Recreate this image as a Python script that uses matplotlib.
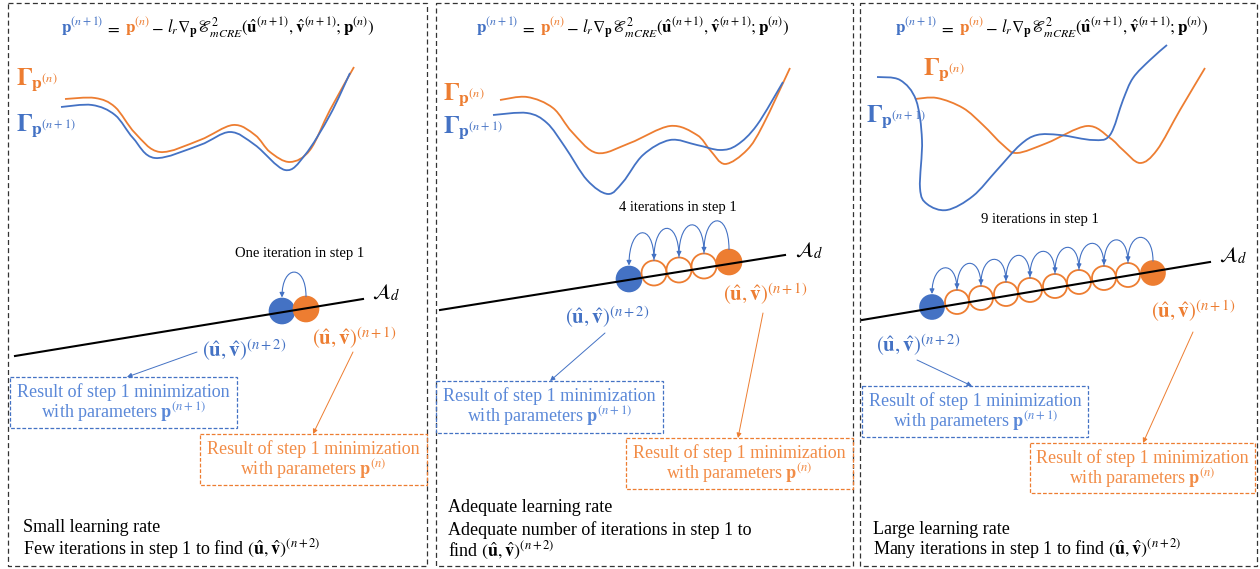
import numpy as np
import matplotlib
matplotlib.use("Agg")
import matplotlib.pyplot as plt
from matplotlib.path import Path
from matplotlib.patches import PathPatch, Circle, FancyArrowPatch, Rectangle

plt.rcParams["font.family"] = ["Liberation Serif", "DejaVu Serif"]
plt.rcParams["mathtext.fontset"] = "stix"

BLUE = "#4472C4"
ORANGE = "#ED7D31"
BLUE_TXT = "#5a88d8"
ORANGE_TXT = "#f28c46"

# ---- panels (left, right) in pixels ----
panel_x0 = [8, 436, 860]
panel_x1 = [427, 853, 1257]
panel_y0 = 3
panel_y1 = 566

# ---- loss landscape curves (pixel coords) ----
orange_x = [
    [65, 95, 115, 135, 160, 200, 233, 255, 270, 290, 310, 330, 354],
    [500, 527, 553, 572, 597, 630, 670, 697, 710, 725, 747, 763, 790],
    [915, 937, 963, 983, 1003, 1017, 1047, 1087, 1110, 1123, 1140, 1157, 1180, 1205],
]
orange_y = [
    [99, 98, 107, 133, 152, 140, 125, 135, 152, 162, 150, 110, 67],
    [100, 97, 108, 132, 153, 143, 126, 135, 150, 164, 150, 125, 68],
    [99, 98, 108, 125, 145, 153, 143, 126, 138, 150, 163, 150, 110, 68],
]
blue_x = [
    [61, 92, 115, 133, 155, 200, 230, 255, 285, 305, 330, 350],
    [493, 527, 547, 565, 587, 608, 623, 643, 670, 697, 720, 737, 757, 783],
    [877, 900, 916, 922, 920, 927, 947, 973, 997, 1020, 1037, 1060, 1093, 1110, 1123, 1133, 1150, 1167],
]
blue_y = [
    [107, 105, 115, 138, 158, 145, 132, 145, 170, 155, 115, 73],
    [115, 113, 123, 147, 180, 194, 182, 155, 140, 145, 150, 145, 125, 82],
    [77, 80, 100, 140, 188, 204, 210, 196, 170, 145, 135, 135, 140, 135, 100, 78, 60, 45],
]

# ---- design-space line A_d ----
line_x = [(15, 363), (440, 785), (862, 1210)]
line_y = [(356, 299), (310, 255), (320, 262)]
ad_label_xy = [(372, 293), (795, 251), (1219, 256)]

# ---- iterates (circles) ----
circ_x = [
    [282, 306],
    [629, 654, 679, 704, 729],
    [932, 957, 981, 1006, 1030, 1055, 1079, 1104, 1128, 1153],
]
circ_y = [
    [311, 309],
    [279, 273, 270, 266, 262],
    [307, 302, 298, 294, 290, 286, 282, 278, 275, 273],
]
circ_r = [12.5, 12.5, 12.0]
arc_h = [33, 40, 32]

iter_text = ["One iteration in step 1", "4 iterations in step 1", "9 iterations in step 1"]
iter_xy = [(300, 253), (678, 207), (1040, 219)]

eq_cx = [218, 633, 1052]
eq_y = 33

gamma_n_xy = [(16, 80), (443, 95), (923, 70)]
gamma_n1_xy = [(16, 126), (443, 128), (866, 117)]

uv_n2_xy = [(244, 350), (607, 317), (918, 345)]
uv_n1_xy = [(354, 338), (765, 294), (1193, 311)]

# boxes: (x0, y0, x1, y1)
blue_box = [(10, 377, 237, 428), (436, 381, 663, 433), (862, 386, 1088, 437)]
orange_box = [(200, 434, 427, 485), (626, 438, 853, 489), (1030, 443, 1255, 493)]
blue_arrow = [((197, 352), (127, 377)), ((605, 333), (550, 381)), ((917, 360), (972, 386))]
orange_arrow = [((353, 352), (313, 434)), ((763, 313), (738, 438)), ((1193, 332), (1143, 443))]

bottom_lines = [
    ["Small learning rate",
     r"Few iterations in step 1 to find $\left(\hat{\mathbf{u}},\hat{\mathbf{v}}\right)^{(n+2)}$"],
    ["Adequate learning rate",
     "Adequate number of iterations in step 1 to",
     r"find $\left(\hat{\mathbf{u}},\hat{\mathbf{v}}\right)^{(n+2)}$"],
    ["Large learning rate",
     r"Many iterations in step 1 to find $\left(\hat{\mathbf{u}},\hat{\mathbf{v}}\right)^{(n+2)}$"],
]
bottom_y = [[527, 549], [508, 530, 551], [529, 549]]
bottom_x = [23, 448, 873]


def smooth_path(xs, ys):
    pts = np.column_stack([xs, ys]).astype(float)
    ext = np.vstack([pts[0], pts, pts[-1]])
    verts = [pts[0]]
    codes = [Path.MOVETO]
    for i in range(1, len(ext) - 2):
        p0, p1, p2, p3 = ext[i - 1], ext[i], ext[i + 1], ext[i + 2]
        verts += [p1 + (p2 - p0) / 6, p2 - (p3 - p1) / 6, p2]
        codes += [Path.CURVE4] * 3
    return Path(verts, codes)


def colored_math(ax, pieces, cx, y, size, renderer):
    # lay out coloured pieces on one baseline, centred on cx
    texts = [ax.text(0, y, s, color=c, fontsize=size, va="baseline", ha="left")
             for s, c, g in pieces]
    widths = [t.get_window_extent(renderer).width for t in texts]
    gaps = [g for s, c, g in pieces]
    x = cx - (sum(widths) + sum(gaps)) / 2
    for t, w, g in zip(texts, widths, gaps):
        x += g
        t.set_x(x)
        x += w


fig = plt.figure(figsize=(12.6, 5.69), dpi=100)
ax = fig.add_axes([0, 0, 1, 1])
ax.set_xlim(0, 1260)
ax.set_ylim(569, 0)
ax.axis("off")
renderer = fig.canvas.get_renderer()

for k in range(3):
    # panel border
    ax.add_patch(Rectangle((panel_x0[k], panel_y0), panel_x1[k] - panel_x0[k], panel_y1 - panel_y0,
                           fill=False, ec="#333333", lw=0.9, ls=(0, (4, 2.5))))

    # equation
    pieces = [
        (r"$\mathbf{p}^{(n+1)}$", BLUE, 0),
        (r"$=$", "black", 1),
        (r"$\mathbf{p}^{(n)}$", ORANGE, 5),
        (r"$-$", "black", 1),
        (r"$l_r\nabla_{\mathbf{p}}\mathscr{E}^{2}_{mCRE}(\hat{\mathbf{u}}^{(n+1)},\hat{\mathbf{v}}^{(n+1)};\mathbf{p}^{(n)})$", "black", 4),
    ]
    colored_math(ax, pieces, eq_cx[k], eq_y, 12.2, renderer)

    # curves
    ax.add_patch(PathPatch(smooth_path(orange_x[k], orange_y[k]), fill=False, ec=ORANGE, lw=1.3))
    ax.add_patch(PathPatch(smooth_path(blue_x[k], blue_y[k]), fill=False, ec=BLUE, lw=1.3))
    ax.text(*gamma_n_xy[k], r"$\mathbf{\Gamma}_{\mathbf{p}^{(n)}}$", color=ORANGE, fontsize=18,
            va="center", ha="left")
    ax.text(*gamma_n1_xy[k], r"$\mathbf{\Gamma}_{\mathbf{p}^{(n+1)}}$", color=BLUE, fontsize=18,
            va="center", ha="left")

    ax.text(*iter_xy[k], iter_text[k], fontsize=10.5, ha="center", va="center")

    # A_d line
    ax.plot(line_x[k], line_y[k], color="black", lw=1.5, zorder=4)
    ax.text(*ad_label_xy[k], r"$\mathcal{A}_d$", fontsize=15, ha="left", va="center")

    # circles
    xs, ys, r = circ_x[k], circ_y[k], circ_r[k]
    n = len(xs)
    for i in range(n):
        if i == 0:
            ax.add_patch(Circle((xs[i], ys[i]), r, fc=BLUE, ec=BLUE, lw=1.2, zorder=3))
        elif i == n - 1:
            ax.add_patch(Circle((xs[i], ys[i]), r, fc=ORANGE, ec=ORANGE, lw=1.2, zorder=3))
        else:
            ax.add_patch(Circle((xs[i], ys[i]), r, fc="white", ec=ORANGE, lw=1.3, zorder=3))
    h = arc_h[k]
    for i in range(n - 1, 0, -1):
        x0, y0 = xs[i], ys[i] - r
        x1, y1 = xs[i - 1], ys[i - 1] - r - 1
        p = Path([(x0, y0), (x0, y0 - h), (x1, y1 - h), (x1, y1)],
                 [Path.MOVETO, Path.CURVE4, Path.CURVE4, Path.CURVE4])
        ax.add_patch(FancyArrowPatch(path=p, arrowstyle="-|>", mutation_scale=7,
                                     color=BLUE, lw=0.8, zorder=5))

    # labels of iterates
    ax.text(*uv_n2_xy[k], r"$\left(\hat{\mathbf{u}},\hat{\mathbf{v}}\right)^{(n+2)}$",
            color=BLUE, fontsize=15, ha="center", va="center")
    ax.text(*uv_n1_xy[k], r"$\left(\hat{\mathbf{u}},\hat{\mathbf{v}}\right)^{(n+1)}$",
            color=ORANGE, fontsize=15, ha="center", va="center")

    # result boxes
    for box, col, tcol, sup in [(blue_box[k], BLUE, BLUE_TXT, "(n+1)"),
                                (orange_box[k], ORANGE, ORANGE_TXT, "(n)")]:
        bx0, by0, bx1, by1 = box
        ax.add_patch(Rectangle((bx0, by0), bx1 - bx0, by1 - by0, fill=False, ec=col,
                               lw=0.9, ls=(0, (3, 1.5))))
        cx = (bx0 + bx1) / 2
        ax.text(cx, by0 + 15, "Result of step 1 minimization", color=tcol, fontsize=13,
                ha="center", va="center")
        ax.text(cx, by0 + 35, r"with parameters $\mathbf{p}^{%s}$" % sup, color=tcol,
                fontsize=13, ha="center", va="center")

    for (a, b), col in [(blue_arrow[k], BLUE), (orange_arrow[k], ORANGE)]:
        ax.add_patch(FancyArrowPatch(a, b, arrowstyle="-|>", mutation_scale=7, color=col,
                                     lw=0.7, shrinkA=0, shrinkB=0))

    for line, yy in zip(bottom_lines[k], bottom_y[k]):
        ax.text(bottom_x[k], yy, line, fontsize=13, ha="left", va="center")

fig.savefig("out.png", dpi=100)
